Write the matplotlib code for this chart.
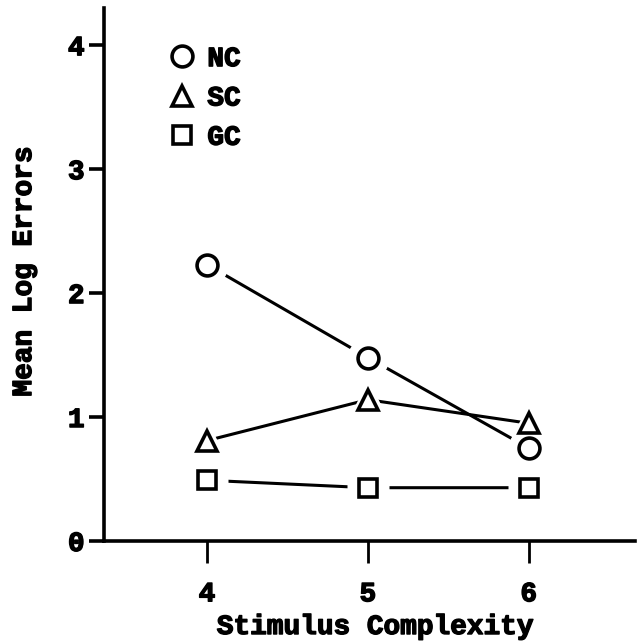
import matplotlib
matplotlib.use('Agg')
import matplotlib.pyplot as plt
import matplotlib.patheffects as pe

complexity = [4, 5, 6]
nc = [2.23, 1.48, 0.75]
sc = [0.81, 1.14, 0.95]
gc = [0.49, 0.43, 0.43]
series = [('NC', nc, 'o'), ('SC', sc, '^'), ('GC', gc, 's')]
yticks = [0, 1, 2, 3, 4]

font = dict(family='Liberation Mono', weight='bold', size=20)
thick = [pe.withStroke(linewidth=1.0, foreground='black')]

fig = plt.figure(figsize=(6.4, 6.41), dpi=100)
ax = fig.add_axes([0.1625, 0.156, 0.8295, 0.8315])

# lines first, then white halos to leave gaps, then open markers
for name, vals, m in series:
    ax.plot(complexity, vals, color='black', lw=2.2, zorder=1)
for name, vals, m in series:
    ax.plot(complexity, vals, ls='none', marker=m, ms=30, mfc='white',
            mec='none', zorder=2)
handles = []
for name, vals, m in series:
    ms = 13 if m == 's' else 15
    h, = ax.plot(complexity, vals, ls='none', marker=m, ms=ms, mfc='white',
                 mec='black', mew=2.6, zorder=3, label=name)
    handles.append(h)

ax.set_xlim(3.36, 6.66)
ax.set_ylim(0, 4.30)
ax.set_xticks(complexity)
ax.set_yticks(yticks)

for s in ['top', 'right']:
    ax.spines[s].set_visible(False)
for s in ['left', 'bottom']:
    ax.spines[s].set_linewidth(2.6)

ax.tick_params(axis='y', length=11, width=2.6, pad=3)
ax.tick_params(axis='x', length=16, width=2.0, pad=13)
for lab in ax.get_xticklabels() + ax.get_yticklabels():
    lab.set_fontproperties(matplotlib.font_manager.FontProperties(**font))
    lab.set_path_effects(thick)

ax.set_xlabel('Stimulus Complexity', fontdict=font, path_effects=thick)
ax.set_ylabel('Mean Log Errors', fontdict=font, path_effects=thick)
ax.xaxis.set_label_coords(0.51, -0.137)
ax.yaxis.set_label_coords(-0.126, 0.505)

leg = ax.legend(handles=handles, loc='upper left', bbox_to_anchor=(0.09, 0.965),
                frameon=False, handlelength=0.8, handletextpad=0.5,
                labelspacing=0.48, borderpad=0.2,
                prop=matplotlib.font_manager.FontProperties(family='Liberation Mono',
                                                            weight='bold', size=20))
for t in leg.get_texts():
    t.set_path_effects(thick)

fig.savefig('out.png', dpi=100)
